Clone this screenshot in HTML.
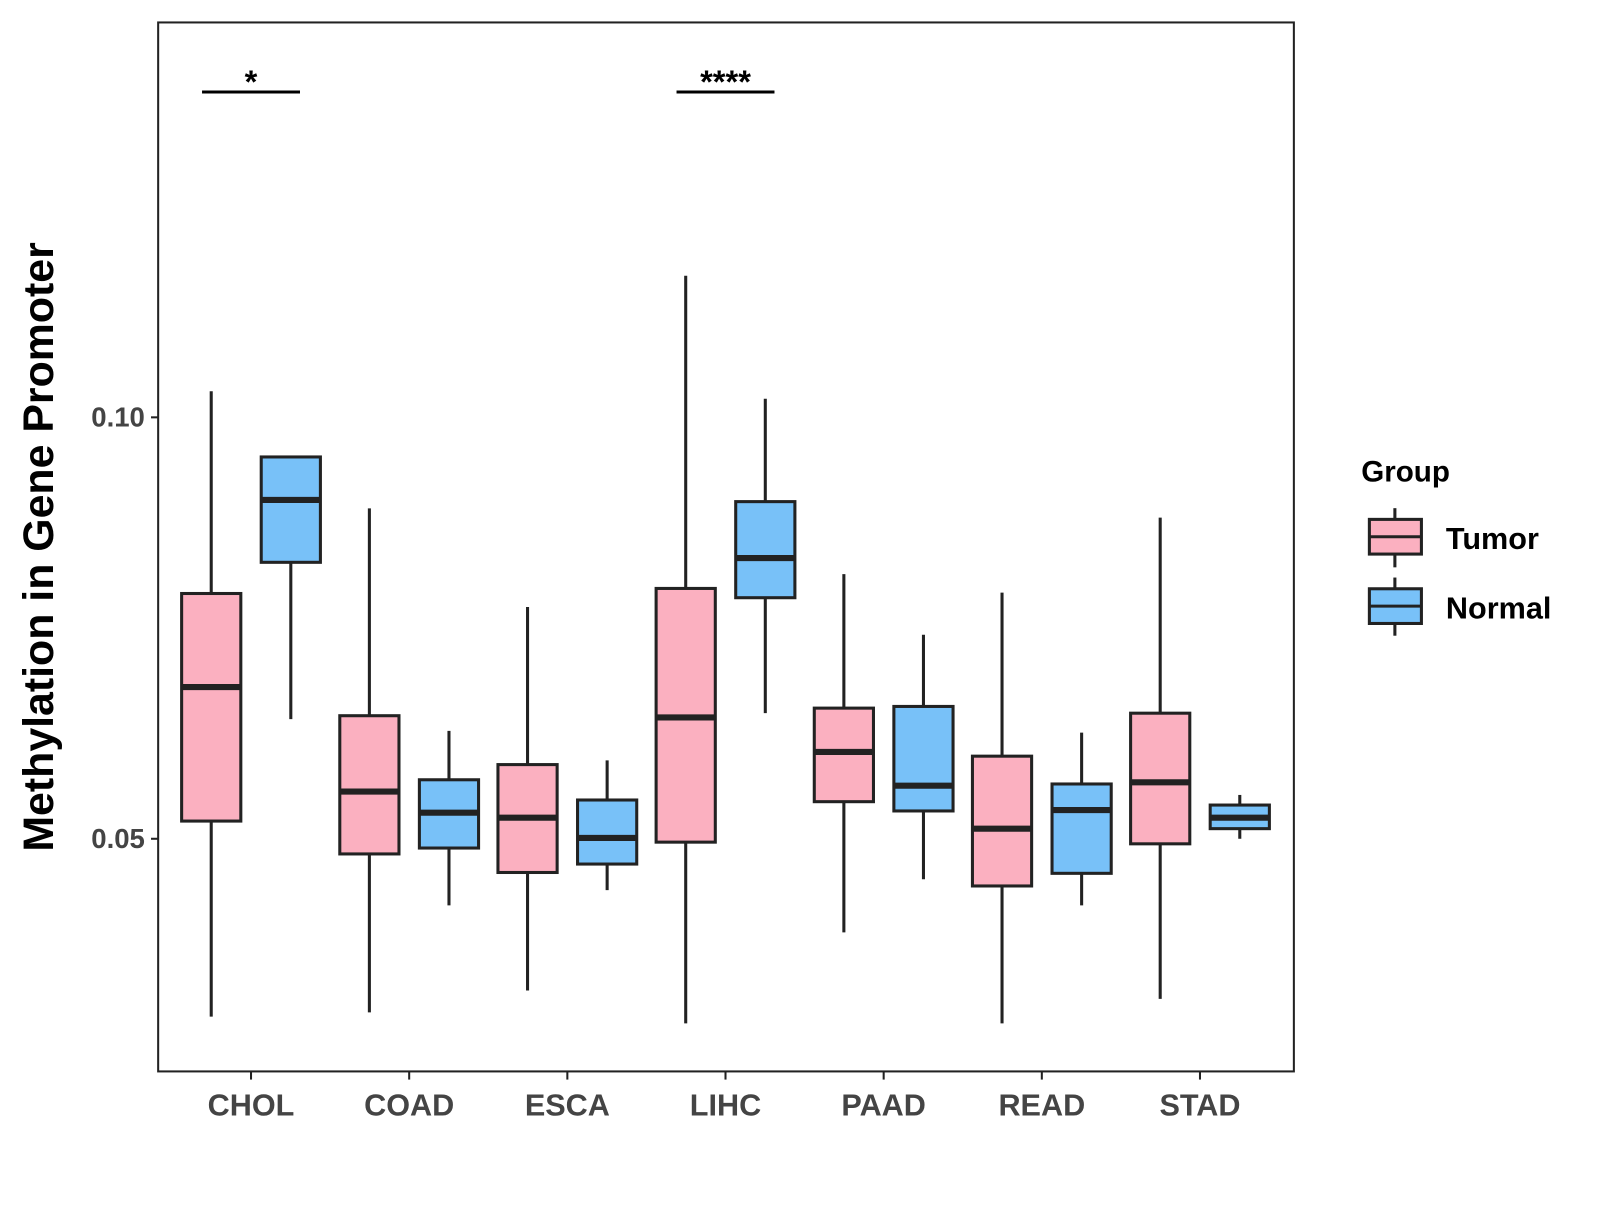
<!DOCTYPE html>
<html><head><meta charset="utf-8"><style>
body{margin:0;background:#fff;}
svg text{font-family:"Liberation Sans",Arial,sans-serif;font-weight:bold;}
</style></head><body>
<svg id="chart" width="1600" height="1200" viewBox="0 0 1600 1200" xmlns="http://www.w3.org/2000/svg">
<rect width="1600" height="1200" fill="#fff"/>
<g transform="scale(1.0204)">
<rect x="155" y="22" width="1113" height="1028" fill="none" stroke="#222" stroke-width="2"/>
<g id="marks"></g>
<text x="-536" y="52" transform="rotate(-90)" text-anchor="middle" font-size="42" fill="#000">Methylation in Gene Promoter</text>
<g>
<text x="1334" y="472" font-size="29" fill="#000">Group</text>
<g>
<line x1="1367" y1="498" x2="1367" y2="556" stroke="#222" stroke-width="3"/>
<rect x="1342" y="509" width="51" height="34" fill="#FBB0C0" stroke="#222" stroke-width="3"/>
<line x1="1342" y1="526" x2="1393" y2="526" stroke="#222" stroke-width="3"/>
<text x="1417" y="538" font-size="30" fill="#000">Tumor</text></g>
<g>
<line x1="1367" y1="566" x2="1367" y2="623" stroke="#222" stroke-width="3"/>
<rect x="1342" y="577" width="51" height="34" fill="#78C1F8" stroke="#222" stroke-width="3"/>
<line x1="1342" y1="594" x2="1393" y2="594" stroke="#222" stroke-width="3"/>
<text x="1417" y="606" font-size="30" fill="#000">Normal</text></g>
</g>
</g>
</svg>
<script>
const categories=["CHOL","COAD","ESCA","LIHC","PAAD","READ","STAD"];
// [lower, q1, median, q3, upper]
const tumorStats=[[0.0289,0.0521,0.0680,0.0791,0.1031],[0.0294,0.0482,0.0556,0.0646,0.0892],[0.0320,0.0460,0.0525,0.0588,0.0775],[0.0281,0.0496,0.0644,0.0797,0.1168],[0.0389,0.0544,0.0603,0.0655,0.0814],[0.0281,0.0444,0.0512,0.0598,0.0792],[0.0310,0.0494,0.0567,0.0649,0.0881]];
const normalStats=[[0.0642,0.0828,0.0902,0.0953,0.0954],[0.0421,0.0489,0.0531,0.0570,0.0628],[0.0439,0.0470,0.0501,0.0546,0.0593],[0.0649,0.0786,0.0833,0.0900,0.1022],[0.0452,0.0533,0.0563,0.0657,0.0742],[0.0421,0.0459,0.0534,0.0565,0.0626],[0.0500,0.0512,0.0525,0.0540,0.0552]];
const yTicks=[0.05,0.10];
const yTickLabels=["0.05","0.10"];
const sigCategories=["CHOL","LIHC"];
const sigLabels=["*","****"];
const sigLevel=[0.1386,0.1386];

const NS="http://www.w3.org/2000/svg";
const g=document.getElementById("marks");
function y(v){return 409-(v-0.10)*8260;}
function x(i){return 246+i*155;}
function mk(tag,attrs,parent){const e=document.createElementNS(NS,tag);for(const k in attrs)e.setAttribute(k,attrs[k]);(parent||g).appendChild(e);return e;}

yTicks.forEach((t,i)=>{
  const l=mk("line",{x1:148,x2:155,y1:y(t),y2:y(t),stroke:"#222","stroke-width":2});
  
  
  const tx=mk("text",{x:142,y:y(t)+9,"text-anchor":"end","font-size":27,fill:"#444"});
  tx.textContent=yTickLabels[i];
  
  
});
categories.forEach((c,i)=>{
  const l=mk("line",{x1:x(i),x2:x(i),y1:1050,y2:1058,stroke:"#222","stroke-width":2});
  
  
  const tx=mk("text",{x:x(i),y:1093,"text-anchor":"middle","font-size":30,fill:"#444"});
  tx.textContent=c;
  
  
});
function box(cx,s,fill,name){
  const grp=mk("g",{});
  
  
  mk("line",{x1:cx,x2:cx,y1:y(s[4]),y2:y(s[0]),stroke:"#222","stroke-width":3},grp);
  mk("rect",{x:cx-29,y:y(s[3]),width:58,height:y(s[1])-y(s[3]),fill:fill,stroke:"#222","stroke-width":3},grp);
  mk("line",{x1:cx-29,x2:cx+29,y1:y(s[2]),y2:y(s[2]),stroke:"#222","stroke-width":6},grp);
}
categories.forEach((c,i)=>{
  box(x(i)-39,tumorStats[i],"#FBB0C0","box-tumor-"+c.toLowerCase());
  box(x(i)+39,normalStats[i],"#78C1F8","box-normal-"+c.toLowerCase());
});
sigCategories.forEach((c,k)=>{
  const i=categories.indexOf(c);
  const l=mk("line",{x1:x(i)-48,x2:x(i)+48,y1:y(sigLevel[k]),y2:y(sigLevel[k]),stroke:"#000","stroke-width":3});
  
  
  const tx=mk("text",{x:x(i),y:y(sigLevel[k])+1,"text-anchor":"middle","font-size":32,fill:"#000"});
  tx.textContent=sigLabels[k];
  
  
});
</script>
</body></html>
